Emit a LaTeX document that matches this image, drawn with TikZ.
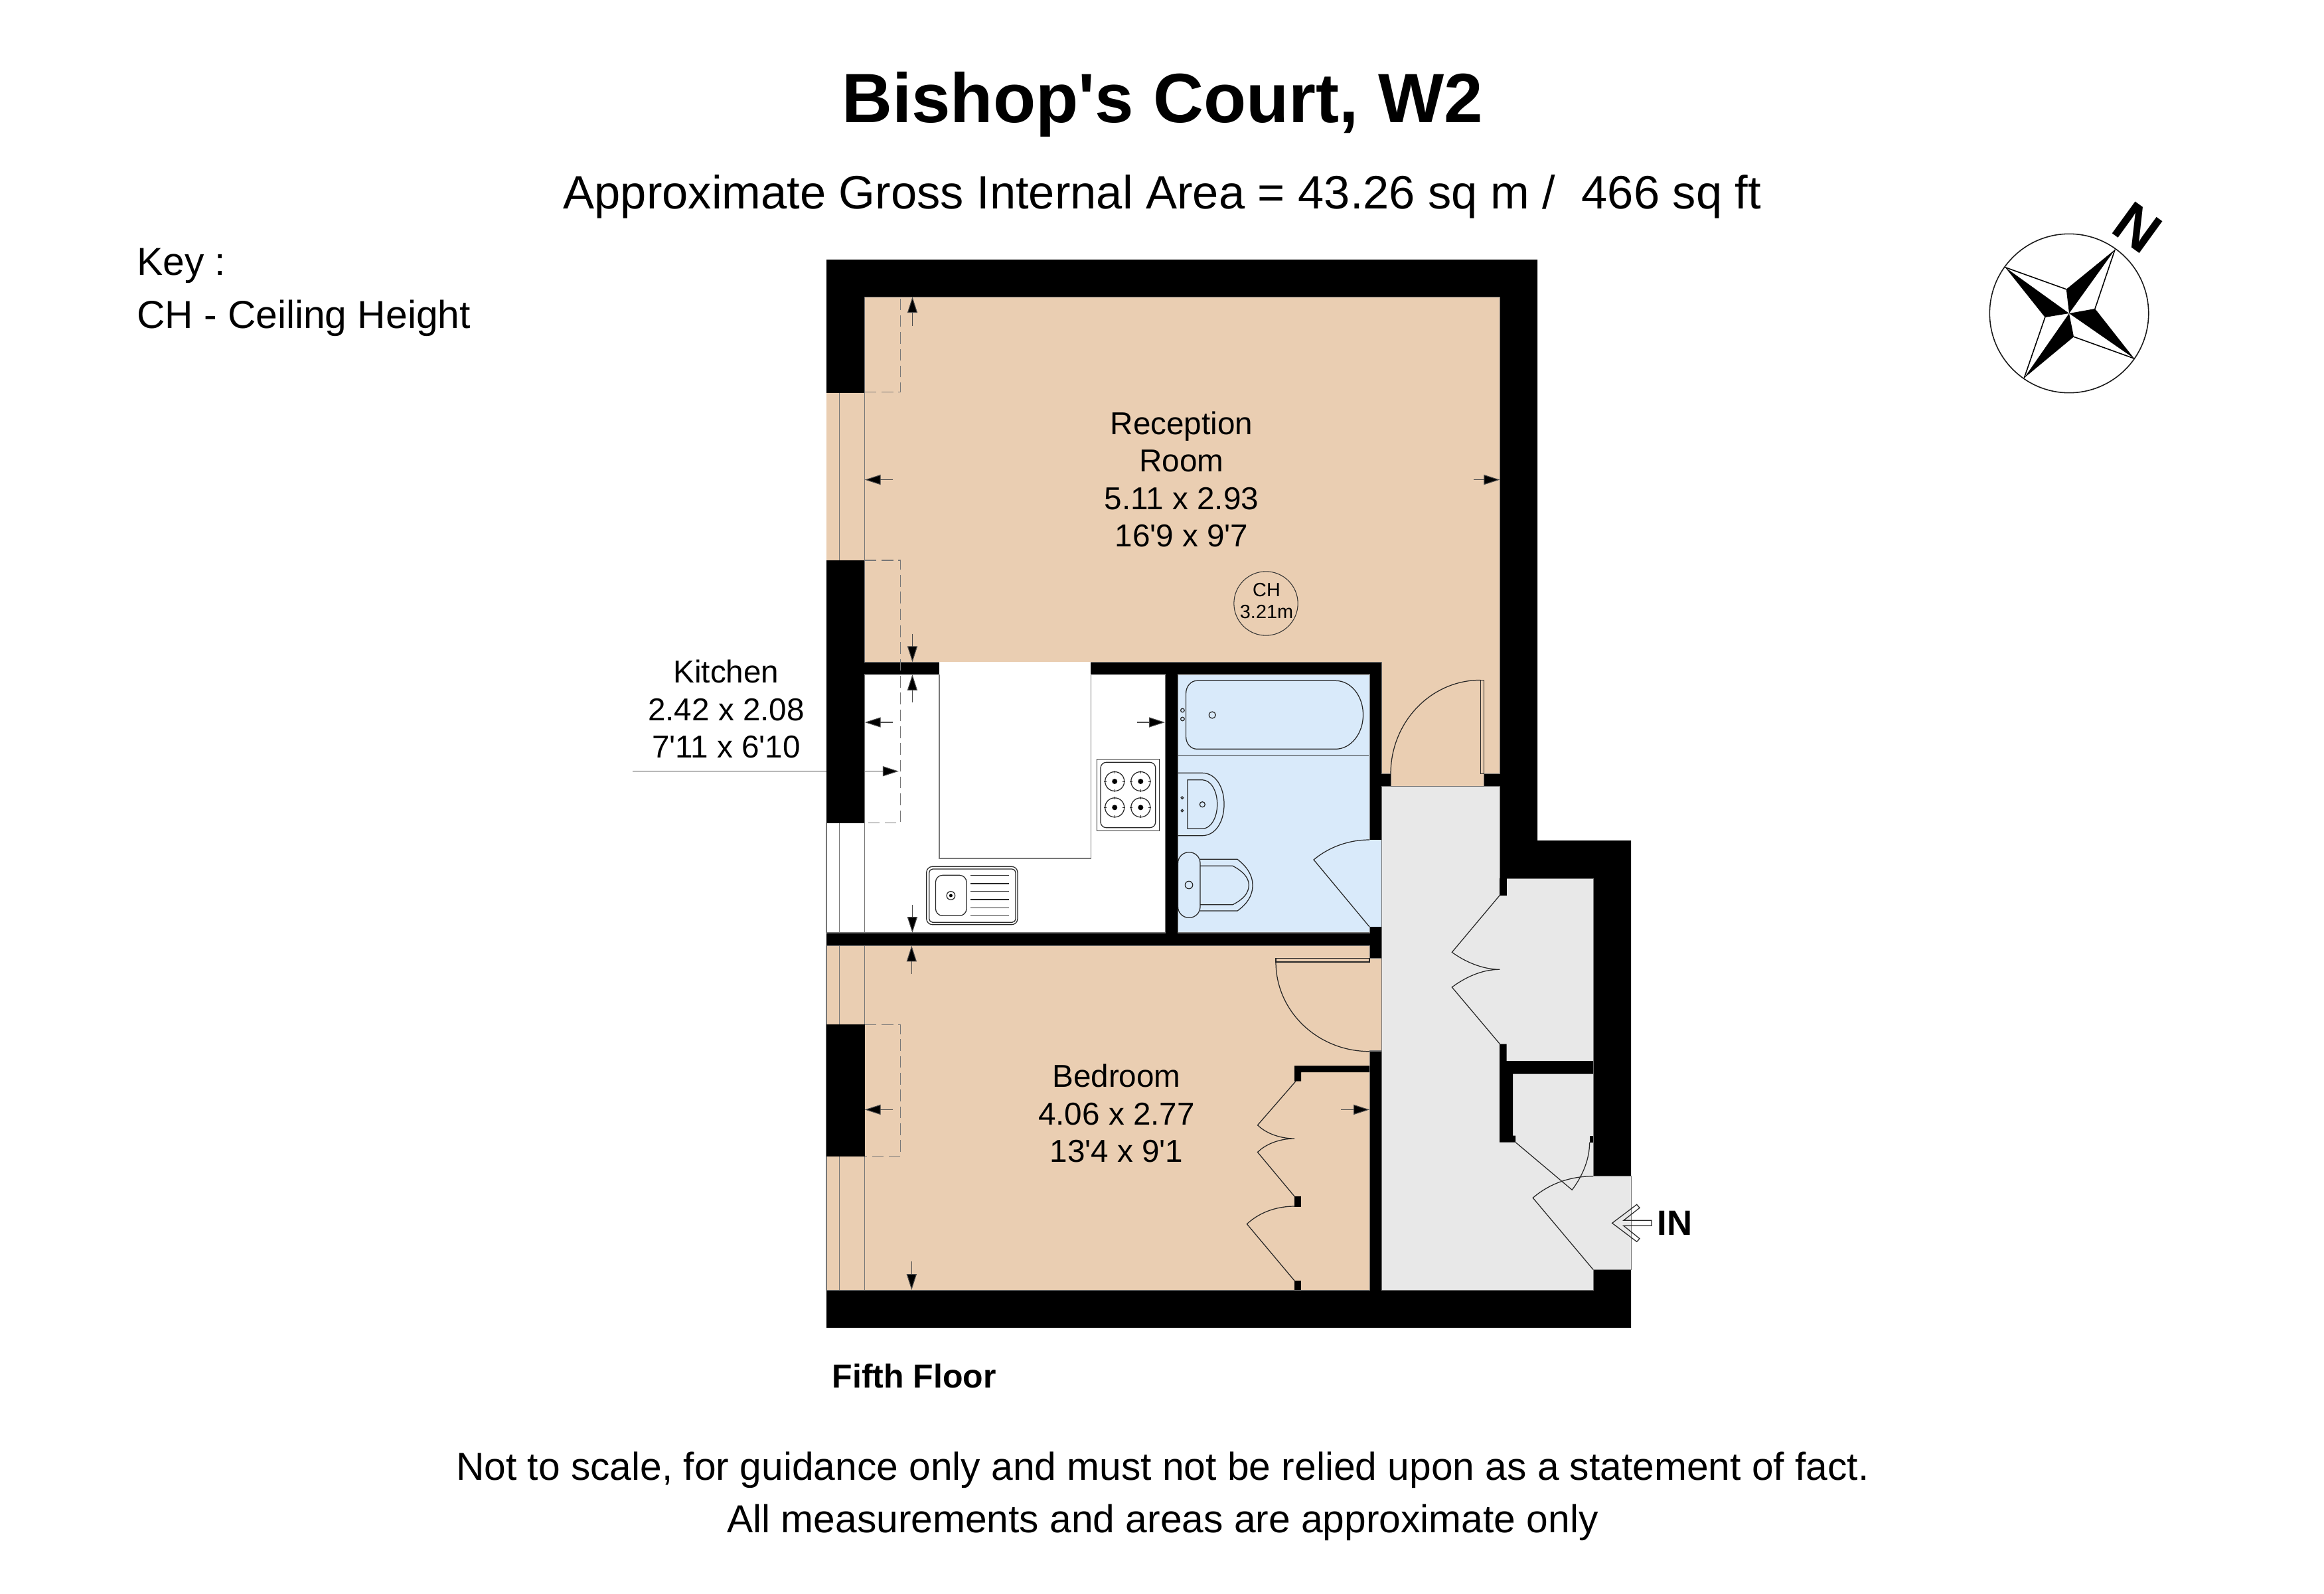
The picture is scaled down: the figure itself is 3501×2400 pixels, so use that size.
\documentclass[tikz,border=0pt]{standalone}
\usepackage{fontspec}
\setmainfont{Liberation Sans}[Ligatures=TeXOff]
\usetikzlibrary{arrows.meta}
\definecolor{tanroom}{HTML}{EACEB2}
\definecolor{blueroom}{HTML}{D9EAFA}
\definecolor{greyroom}{HTML}{E8E8E8}
\definecolor{edgegrey}{HTML}{777777}
\tikzset{
  wall/.style={fill=black,draw=none},
  room/.style={draw=edgegrey,line width=.3pt},
  thinline/.style={draw=black!85,line width=.35pt},
  fixture/.style={draw=black!85,line width=.35pt,fill=none},
  dashbox/.style={draw=edgegrey,line width=.3pt,dash pattern=on 5pt off 2.2pt},
  dimarrow/.style={draw=black!70,line width=.3pt,-{Triangle[length=6.8pt,width=4.3pt,fill=black]}},
  roomlabel/.style={inner sep=0pt,align=center,font=\fontsize{13.55}{16}\selectfont},
  chlabel/.style={inner sep=0pt,align=center,font=\fontsize{8.2}{9.4}\selectfont},
  basetext/.style={inner sep=0pt,anchor=base},
}
\begin{document}
\begin{tikzpicture}[x=0.01cm,y=-0.01cm]
\useasboundingbox (0,0) rectangle (3501,2400);
% shell
\fill[wall] (1245,391)--(2316,391)--(2316,1266)--(2457,1266)--(2457,2000)--(1245,2000)--cycle;
% reception
\filldraw[room,fill=tanroom] (1302.7,447.3)--(2259.3,447.3)--(2259.3,1165.6)--(2235.3,1165.6)--(2235.3,1184.7)--(2095.3,1184.7)--(2095.3,1165.6)--(2081.7,1165.6)--(2081.7,997.3)--(1302.7,997.3)--cycle;
\fill[tanroom] (1245,591.7) rectangle (1302.7,843.8);
\draw[room] (1264.7,591.7)--(1264.7,843.8) (1302.7,591.7)--(1302.7,843.8);
% kitchen
\filldraw[room,fill=white] (1302.7,1016) rectangle (1755,1405);
\fill[white] (1245,1239.7) rectangle (1302.7,1405);
\draw[room] (1245,1239.7)--(1245,1405) (1264.7,1239.7)--(1264.7,1405) (1302.7,1239.7)--(1302.7,1405) (1245,1405)--(1302.7,1405);
\fill[white] (1415,997) rectangle (1643,1293);
\draw[room] (1415,1016)--(1415,1293)--(1643,1293)--(1643,1016);
% bathroom
\filldraw[room,fill=blueroom] (1774.5,1016) rectangle (2063,1405);
\fill[blueroom] (2062,1265) rectangle (2081.7,1396);
% hall and cupboards
\filldraw[room,fill=greyroom] (2081.7,1184.7)--(2259,1184.7)--(2259,1323.3)--(2400,1323.3)--(2400,1771.7)--(2457,1771.7)--(2457,1912.3)--(2400,1912.3)--(2400,1943)--(2081.7,1943)--cycle;
\fill[wall] (2259,1323.3) rectangle (2269.5,1348.5);
\fill[wall] (2259,1572.7)--(2269.5,1572.7)--(2269.5,1598)--(2400,1598)--(2400,1617.7)--(2279,1617.7)--(2279,1710.7)--(2283.2,1710.7)--(2283.2,1720.7)--(2259,1720.7)--cycle;
\fill[wall] (2394.6,1710.7) rectangle (2400,1720.7);
% bedroom
\filldraw[room,fill=tanroom] (1245,1424.5)--(2063,1424.5)--(2063,1443.5)--(2081.7,1443.5)--(2081.7,1583)--(2063,1583)--(2063,1943)--(1245,1943)--cycle;
\fill[wall] (1245,1543.3) rectangle (1302.7,1742.4);
\draw[room] (1264.7,1424.5)--(1264.7,1543.3) (1302.7,1424.5)--(1302.7,1543.3) (1264.7,1742.4)--(1264.7,1943) (1302.7,1742.4)--(1302.7,1943);
\fill[wall] (1950.2,1605.3)--(2063,1605.3)--(2063,1615)--(1960,1615)--(1960,1628.6)--(1950.2,1628.6)--cycle;
\fill[wall] (1950.2,1802) rectangle (1960,1817.5);
\fill[wall] (1950.2,1929) rectangle (1960,1943);
% dashed chimney breasts
\draw[dashbox] (1302.7,590.5)--(1356.6,590.5)--(1356.6,447.3);
\draw[dashbox] (1302.7,844)--(1356.6,844)--(1356.6,1239.7)--(1302.7,1239.7);
\draw[dashbox] (1302.7,1543.3)--(1356.6,1543.3)--(1356.6,1742.4)--(1302.7,1742.4);
% doors
\draw[thinline] (2095,1165.6) .. controls (2095,1087.6) and (2155.6,1024.4) .. (2230.3,1024.4);
\draw[thinline] (2230.3,1165.6)--(2230.3,1024.4)--(2235.3,1024.4)--(2235.3,1165.6)--cycle;
\draw[thinline] (2063,1396)--(1979,1295) .. controls (2002.6,1275.4) and (2032.4,1265) .. (2063,1265);
\draw[thinline] (2063,1443.3)--(1922,1443.3)--(1922,1449)--(2063,1449)--cycle;
\draw[thinline] (1922,1449) .. controls (1922,1523.4) and (1985.2,1583.7) .. (2063,1583.7);
\draw[thinline] (1952,1628.6)--(1894.5,1694.7) .. controls (1908,1708) and (1930,1715) .. (1950,1715) .. controls (1930,1715) and (1908,1722) .. (1894.5,1735.5)--(1950,1802);
\draw[thinline] (1950,1817) .. controls (1920,1817) and (1895,1828) .. (1878.4,1843.7)--(1950,1929);
\draw[thinline] (2259.3,1348.5)--(2187.3,1434.3) .. controls (2206,1448) and (2232,1460) .. (2259.3,1460.3) .. controls (2232,1460) and (2206,1473) .. (2187.3,1487)--(2259.3,1572.4);
\draw[thinline] (2283.2,1720.7)--(2368.2,1792.3) .. controls (2385,1770) and (2394.6,1745) .. (2394.6,1720.7);
\draw[thinline] (2400,1912.3)--(2309.2,1804.3) .. controls (2335,1782) and (2367,1771.7) .. (2400,1771.7);
% entrance arrow
\draw[thinline] (2428.6,1842.3)--(2465.7,1814.3)--(2470,1819.3)--(2445.8,1838.3)--(2488,1838.3)--(2488,1846.3)--(2445.8,1846.3)--(2470,1865.7)--(2465.7,1870.3)--cycle;
% hob
\draw[fixture] (1652.3,1143.3) rectangle (1746.4,1251.7);
\draw[fixture,rounded corners=2.4pt] (1658,1148.3) rectangle (1740.7,1246.7);
\foreach \bx in {1679.2,1718.3}{\foreach \by in {1177,1216.3}{
  \draw[fixture] (\bx,\by) circle[radius=14.5];
  \fill[black] (\bx,\by) circle[radius=4];
  \draw[fixture,line width=.2pt] (\bx-16,\by)--(\bx-12,\by) (\bx+12,\by)--(\bx+16,\by) (\bx,\by-16)--(\bx,\by-12) (\bx,\by+12)--(\bx,\by+16);
}}
% sink
\draw[fixture,rounded corners=2.5pt] (1395.7,1305.3) rectangle (1532.9,1392.7);
\draw[fixture,rounded corners=1.5pt] (1399.7,1309) rectangle (1530,1389.3);
\draw[fixture,rounded corners=3pt] (1409.4,1318.3) rectangle (1456,1379.3);
\draw[fixture] (1432.4,1349) circle[radius=6.3];
\fill[black] (1432.4,1349) circle[radius=2.5];
\foreach \ly in {1318.7,1331,1342.7,1355,1367.3,1379.3}{\draw[fixture] (1461.7,\ly)--(1520.2,\ly);}
% bath
\draw[fixture] (1774.5,1138.3)--(2062,1138.3);
\draw[fixture] (1803,1025.3)--(2012,1025.3) .. controls (2035,1025.3) and (2053.5,1048) .. (2053.5,1076.8) .. controls (2053.5,1105) and (2035,1128.3) .. (2012,1128.3)--(1803,1128.3) .. controls (1794,1128.3) and (1786.6,1120) .. (1786.6,1110)--(1786.6,1044) .. controls (1786.6,1034) and (1794,1025.3) .. (1803,1025.3)--cycle;
\draw[fixture] (1781.4,1070) circle[radius=2.8] (1781.4,1083) circle[radius=2.8] (1826.2,1077) circle[radius=5];
% basin
\draw[fixture] (1774.5,1164.3)--(1811,1164.3) .. controls (1831,1164.3) and (1844,1185) .. (1844,1211.5) .. controls (1844,1238) and (1831,1258.7) .. (1811,1258.7)--(1774.5,1258.7);
\draw[fixture] (1789,1174.7)--(1811,1174.7) .. controls (1824,1174.7) and (1833.7,1191) .. (1833.7,1211.5) .. controls (1833.7,1232) and (1824,1248.3) .. (1811,1248.3)--(1789,1248.3)--cycle;
\draw[fixture] (1780.9,1201.7) circle[radius=1.8] (1780.9,1221) circle[radius=1.8] (1811.3,1211.7) circle[radius=4];
% toilet
\draw[fixture] (1808,1294.3)--(1864,1294.3) .. controls (1878,1305) and (1887,1318) .. (1887,1333) .. controls (1887,1350) and (1878,1362) .. (1864,1372)--(1808,1372);
\draw[fixture] (1808,1304.3)--(1857,1304.3) .. controls (1872,1312) and (1881.3,1322) .. (1881.3,1333) .. controls (1881.3,1346) and (1872,1355) .. (1857,1362.7)--(1808,1362.7);
\draw[fixture,rounded corners=4.7pt] (1774.5,1283.7) rectangle (1808,1382.3);
\draw[fixture] (1791,1333) circle[radius=5.7];
% dimension arrows
\draw[dimarrow] (1374.5,491)--(1374.5,447.3);
\draw[dimarrow] (1345,722.6)--(1302.7,722.6);
\draw[dimarrow] (2220,722.6)--(2259.3,722.6);
\draw[dimarrow] (1374.5,954.5)--(1374.5,997.3);
\draw[dimarrow] (1374.4,1058)--(1374.4,1016);
\draw[dimarrow] (1374.4,1362.7)--(1374.4,1405);
\draw[dimarrow] (1345,1088)--(1302.7,1088);
\draw[dimarrow] (1712.5,1088)--(1755,1088);
\draw[dimarrow] (1302.7,1161.7)--(1353.8,1161.7);
\draw[dimarrow] (1373.3,1467.3)--(1373.3,1424.5);
\draw[dimarrow] (1373.3,1900.4)--(1373.3,1943);
\draw[dimarrow] (1345,1671.4)--(1302.7,1671.4);
\draw[dimarrow] (2020,1671.4)--(2063,1671.4);
% kitchen leader
\coordinate (leaderend) at (953,1161.7);
\coordinate (leaderwall) at (1245,1161.7);
\draw[draw=black!70,line width=.3pt] (leaderend)--(leaderwall);
% labels
\node[basetext,font=\bfseries\fontsize{29.9}{36}\selectfont] (title) at (1751,185) {Bishop's Court, W2};
\node[basetext,font=\fontsize{20.05}{24}\selectfont] (subtitle) at (1751,314.5) {Approximate Gross Internal Area = 43.26 sq m /\ \ 466 sq ft};
\node[basetext,anchor=base west,font=\fontsize{16.7}{20}\selectfont] (key1) at (205.5,414.5) {Key :};
\node[basetext,anchor=base west,font=\fontsize{16.7}{20}\selectfont] (key2) at (205.5,494.5) {CH - Ceiling Height};
\node[roomlabel] (reception) at (1780,722) {Reception\\Room\\5.11 x 2.93\\16'9 x 9'7};
\node[roomlabel] (kitchen) at (1094,1068) {Kitchen\\2.42 x 2.08\\7'11 x 6'10};
\node[roomlabel] (bedroom) at (1682,1677) {Bedroom\\4.06 x 2.77\\13'4 x 9'1};
\node[circle,draw=black!80,line width=.3pt,minimum size=27.4pt,inner sep=0pt] (chcircle) at (1907,909) {};
\node[chlabel] (chtext) at (1908,905) {CH\\3.21m};
\node[basetext,anchor=base west,font=\bfseries\fontsize{15}{18}\selectfont] (innote) at (2496,1860) {IN};
\node[basetext,anchor=base west,font=\bfseries\fontsize{14.2}{17}\selectfont] (floor) at (1253,2090) {Fifth Floor};
\node[basetext,font=\fontsize{16.7}{20}\selectfont] (foot1) at (1751.5,2229) {Not to scale, for guidance only and must not be relied upon as a statement of fact.};
\node[basetext,font=\fontsize{16.7}{20}\selectfont] (foot2) at (1751.5,2308) {All measurements and areas are approximate only};
% compass
\draw[draw=black!90,line width=.45pt] (3117,472) circle[radius=119.7];
\draw[draw=black,line width=.45pt] (3020.7,402.7)--(3112.7,435.7) (3186,376)--(3156,465) (3215,540)--(3124,507.3) (3049.3,569.3)--(3080.7,478);
\fill[black] (3117,472)--(3186,376)--(3112.7,435.7)--cycle;
\fill[black] (3117,472)--(3020.7,402.7)--(3080.7,478)--cycle;
\fill[black] (3117,472)--(3215,540)--(3156,465)--cycle;
\fill[black] (3117,472)--(3049.3,569.3)--(3124,507.3)--cycle;
\node[inner sep=0pt,rotate=-36,font=\bfseries\fontsize{24.5}{28}\selectfont] (north) at (3220,342.7) {N};
\end{tikzpicture}
\end{document}
